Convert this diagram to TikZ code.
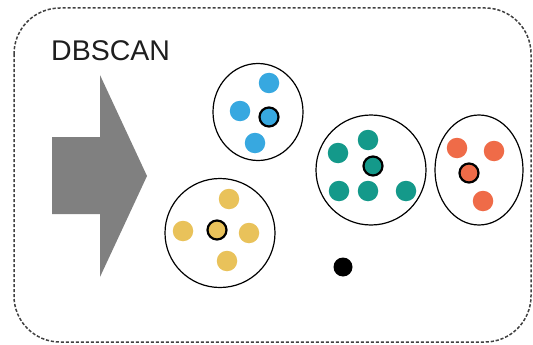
\documentclass[tikz,border=0pt]{standalone}
\usepackage{fontspec}
\setmainfont{Liberation Sans}
\usetikzlibrary{shapes.geometric}

\definecolor{dbblue}{HTML}{37A8E0}
\definecolor{dbteal}{HTML}{14998A}
\definecolor{dborange}{HTML}{EF6B48}
\definecolor{dbyellow}{HTML}{E9C25A}
\definecolor{dbgray}{HTML}{808080}
\definecolor{frame}{HTML}{404040}
\definecolor{ink}{HTML}{1E1E1E}

\tikzset{
  frameline/.style={draw=frame, line width=1.5pt, dash pattern=on 3.2pt off 1.8pt, rounded corners=46pt},
  cluster/.style={draw=black, line width=1.2pt},
  pt/.style={circle, inner sep=0pt, minimum size=20.5pt, draw=none},
  corept/.style={circle, inner sep=0pt, minimum size=19pt, draw=black, line width=2.2pt},
  noisept/.style={circle, inner sep=0pt, minimum size=19pt, fill=black},
  bigarrow/.style={fill=dbgray, draw=none},
}

\begin{document}
\begin{tikzpicture}[x=1pt, y=-1pt]
  \useasboundingbox (0,0) rectangle (533,345);

  % dashed outer frame
  \draw[frameline] (14,8) rectangle (531,342);

  % title
  \node[anchor=base west, inner sep=0pt, text=ink, font=\fontsize{28.5}{32}\selectfont] (title) at (51,60) {DBSCAN};

  % block arrow
  \fill[bigarrow] (52,137) -- (100,137) -- (100,75) -- (147,176) -- (100,277) -- (100,214) -- (52,214) -- cycle;

  % blue cluster
  \draw[cluster] (258,112) ellipse [x radius=45pt, y radius=48.5pt];
  \node[pt, fill=dbblue] (b1) at (269,83) {};
  \node[pt, fill=dbblue] (b2) at (240,111) {};
  \node[pt, fill=dbblue] (b3) at (255,143) {};
  \node[corept, fill=dbblue] (bc) at (269,117) {};

  % teal cluster
  \draw[cluster] (371,170) ellipse [x radius=55pt, y radius=55pt];
  \node[pt, fill=dbteal] (t1) at (368,140) {};
  \node[pt, fill=dbteal] (t2) at (338,153) {};
  \node[pt, fill=dbteal] (t3) at (339,191) {};
  \node[pt, fill=dbteal] (t4) at (368,191) {};
  \node[pt, fill=dbteal] (t5) at (406,191) {};
  \node[corept, fill=dbteal] (tc) at (373,166) {};

  % orange cluster
  \draw[cluster] (479,170) ellipse [x radius=44pt, y radius=55pt];
  \node[pt, fill=dborange] (o1) at (457,148) {};
  \node[pt, fill=dborange] (o2) at (494,151) {};
  \node[pt, fill=dborange] (o3) at (483,201) {};
  \node[corept, fill=dborange] (oc) at (469,173) {};

  % yellow cluster
  \draw[cluster] (220,233) ellipse [x radius=55pt, y radius=54.5pt];
  \node[pt, fill=dbyellow] (y1) at (229,199) {};
  \node[pt, fill=dbyellow] (y2) at (183,231) {};
  \node[pt, fill=dbyellow] (y3) at (249,233) {};
  \node[pt, fill=dbyellow] (y4) at (227,261) {};
  \node[corept, fill=dbyellow] (yc) at (217,230) {};

  % noise point
  \node[noisept] (n1) at (343,267) {};
\end{tikzpicture}
\end{document}
